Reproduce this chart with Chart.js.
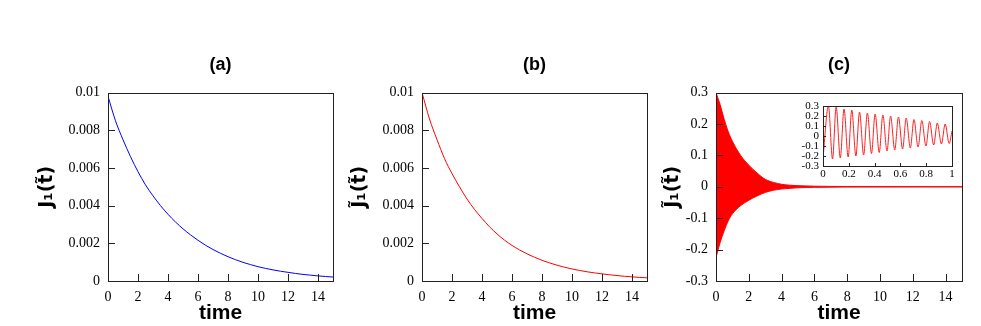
<!DOCTYPE html>
<html>
<head>
<meta charset="utf-8">
<script src="https://cdn.jsdelivr.net/npm/chart.js@4/dist/chart.umd.min.js"></script>
<style>
  body { margin: 0; background: #fff; width: 981px; height: 326px; overflow: hidden; position: relative; }
  canvas { position: absolute; }
</style>
</head>
<body>
<canvas id="ca" width="345" height="326" style="left:0;top:0"></canvas>
<canvas id="cb" width="330" height="326" style="left:330px;top:0"></canvas>
<canvas id="cc" width="341" height="326" style="left:640px;top:0"></canvas>
<canvas id="ci" width="180" height="95" style="left:780px;top:95px"></canvas>
<script>
// time grid for panels (a) and (b)
var time = [0, 0.5, 1, 1.5, 2, 2.5, 3, 3.5, 4, 4.5, 5, 5.5, 6, 6.5, 7, 7.5,
            8, 8.5, 9, 9.5, 10, 10.5, 11, 11.5, 12, 12.5, 13, 13.5, 14, 14.5, 15];

// (a) J1(t~), blue
var jA = [0.0098, 0.0085, 0.0075, 0.0066, 0.0058, 0.0051, 0.00452, 0.0040, 0.00354, 0.00313,
          0.00277, 0.00245, 0.00216, 0.0019, 0.00167, 0.00147, 0.00129, 0.00113, 0.00099, 0.00087,
          0.00076, 0.00067, 0.00059, 0.00052, 0.00046, 0.0004, 0.00035, 0.00031, 0.00027, 0.00024, 0.00021];

// (b) J~1(t~), red
var jB = [0.0100, 0.0086, 0.0075, 0.0065, 0.0057, 0.0050, 0.00435, 0.0038, 0.00332, 0.00288,
          0.0025, 0.00217, 0.00189, 0.00165, 0.00144, 0.00126, 0.0011, 0.00096, 0.00084, 0.00073,
          0.00064, 0.00056, 0.00049, 0.00043, 0.00038, 0.00033, 0.00029, 0.00025, 0.00022, 0.00019, 0.00017];

// (c) envelope of the fast oscillation
var timeC  = [0, 0.25, 0.5, 0.75, 1, 1.5, 2, 2.5, 3, 3.5, 4, 4.5, 5, 6, 7, 8, 10, 12, 15];
var upperC = [0.30, 0.262, 0.215, 0.175, 0.145, 0.10, 0.069, 0.044, 0.024, 0.014, 0.008, 0.005,
              0.0035, 0.002, 0.0012, 0.0008, 0.0005, 0.0003, 0.0002];
var lowerC = [-0.225, -0.178, -0.14, -0.108, -0.086, -0.06, -0.043, -0.029, -0.018, -0.011, -0.007,
              -0.005, -0.003, -0.0018, -0.0012, -0.0008, -0.0005, -0.0003, -0.0002];

// (c) inset: extremes of the oscillation on 0..1
var insetT = [0, 0.042, 0.074, 0.102, 0.134, 0.163, 0.195, 0.223, 0.255, 0.283, 0.315, 0.344,
              0.376, 0.404, 0.436, 0.464, 0.496, 0.524, 0.556, 0.585, 0.617, 0.645, 0.677, 0.705,
              0.737, 0.766, 0.798, 0.826, 0.858, 0.886, 0.918, 0.947, 0.978, 1.0];
var insetJ = [-0.22, 0.30, -0.23, 0.29, -0.22, 0.27, -0.21, 0.26, -0.20, 0.24, -0.19, 0.23,
              -0.175, 0.22, -0.165, 0.21, -0.15, 0.20, -0.14, 0.19, -0.13, 0.18, -0.12, 0.165,
              -0.11, 0.155, -0.10, 0.145, -0.09, 0.13, -0.08, 0.12, -0.075, 0.05];

// ticks
var xTicks = [0, 2, 4, 6, 8, 10, 12, 14];
var xLabels = ['0', '2', '4', '6', '8', '10', '12', '14'];
var yTicksAB = [0, 0.002, 0.004, 0.006, 0.008, 0.01];
var yLabelsAB = ['0', '0.002', '0.004', '0.006', '0.008', '0.01'];
var yTicksC = [-0.3, -0.2, -0.1, 0, 0.1, 0.2, 0.3];
var yLabelsC = ['-0.3', '-0.2', '-0.1', '0', '0.1', '0.2', '0.3'];
var xTicksIn = [0, 0.2, 0.4, 0.6, 0.8, 1];
var xLabelsIn = ['0', '0.2', '0.4', '0.6', '0.8', '1'];

function pts(xs, ys) {
    return xs.map(function (x, i) { return {x: x, y: ys[i]}; });
}

// box around the plot + gnuplot-like inward ticks
var frame = {
    id: 'frame',
    afterDatasetsDraw: function (chart, args, opts) {
        var ctx = chart.ctx, a = chart.chartArea, sx = chart.scales.x, sy = chart.scales.y;
        var len = opts.len || 7;
        ctx.save();
        ctx.strokeStyle = '#222';
        ctx.lineWidth = 1;
        ctx.beginPath();
        sx.ticks.forEach(function (t) {
            var px = Math.round(sx.getPixelForValue(t.value)) + 0.5;
            ctx.moveTo(px, a.bottom);
            ctx.lineTo(px, a.bottom - len);
        });
        sy.ticks.forEach(function (t) {
            var py = Math.round(sy.getPixelForValue(t.value)) + 0.5;
            ctx.moveTo(a.left, py);
            ctx.lineTo(a.left + len, py);
        });
        ctx.stroke();
        ctx.strokeRect(Math.round(a.left) + 0.5, Math.round(a.top) + 0.5,
                       Math.round(a.right - a.left), Math.round(a.bottom - a.top));
        ctx.restore();
    }
};

function makeScales(o) {
    return {
        x: {
            type: 'linear', min: o.xMin, max: o.xMax,
            afterFit: function (s) { s.height = o.xHeight; },
            afterBuildTicks: function (s) { s.ticks = o.xTicks.map(function (v) { return {value: v}; }); },
            grid: {display: false, drawTicks: false},
            border: {display: false},
            ticks: {
                autoSkip: false, maxRotation: 0, padding: o.xPad, color: '#000',
                font: {family: 'Liberation Serif', size: o.tickSize},
                callback: function (v, i) { return o.xLabels[i]; }
            },
            title: o.xTitle ? {
                display: true, text: o.xTitle, color: '#000',
                font: {family: 'Liberation Sans', size: 21, weight: 'bold'},
                padding: {top: 0, bottom: 0}
            } : {display: false}
        },
        y: {
            type: 'linear', min: o.yMin, max: o.yMax,
            afterFit: function (s) { s.width = o.yWidth; },
            afterBuildTicks: function (s) { s.ticks = o.yTicks.map(function (v) { return {value: v}; }); },
            grid: {display: false, drawTicks: false},
            border: {display: false},
            ticks: {
                autoSkip: false, padding: o.yPad, color: '#000',
                font: {family: 'Liberation Serif', size: o.tickSize},
                callback: function (v, i) { return o.yLabels[i]; }
            },
            title: o.yTitle ? {
                display: true, text: o.yTitle, color: '#000',
                font: {family: 'DejaVu Sans', size: 19, weight: 'bold'},
                padding: {top: o.yTitlePad, bottom: 0}
            } : {display: false}
        }
    };
}

function titleOpts(text) {
    return {
        display: true, text: text, fullSize: false, color: '#000',
        font: {family: 'Liberation Sans', size: 18, weight: 'bold'},
        padding: {top: 54, bottom: 17}
    };
}

function lineSet(data, color) {
    return {
        data: data, borderColor: color, borderWidth: 1, pointRadius: 0,
        fill: false, cubicInterpolationMode: 'monotone'
    };
}

Chart.defaults.animation = false;

// (a)
new Chart(document.getElementById('ca'), {
    type: 'line',
    data: {datasets: [lineSet(pts(time, jA), '#0000ff')]},
    options: {
        responsive: false,
        layout: {padding: {left: 0, right: 12, top: 0, bottom: 0}},
        plugins: {legend: {display: false}, tooltip: {enabled: false}, title: titleOpts('(a)'), frame: {len: 7}},
        scales: makeScales({
            xMin: 0, xMax: 15, xTicks: xTicks, xLabels: xLabels, xHeight: 45, xPad: 8, xTitle: 'time',
            yMin: 0, yMax: 0.01, yTicks: yTicksAB, yLabels: yLabelsAB, yWidth: 108, yPad: 8,
            yTitle: 'J\u2081(t\u0303)', yTitlePad: 36, tickSize: 14
        })
    },
    plugins: [frame]
});

// (b)
new Chart(document.getElementById('cb'), {
    type: 'line',
    data: {datasets: [lineSet(pts(time, jB), '#ff0000')]},
    options: {
        responsive: false,
        layout: {padding: {left: 0, right: 13, top: 0, bottom: 0}},
        plugins: {legend: {display: false}, tooltip: {enabled: false}, title: titleOpts('(b)'), frame: {len: 7}},
        scales: makeScales({
            xMin: 0, xMax: 15, xTicks: xTicks, xLabels: xLabels, xHeight: 45, xPad: 8, xTitle: 'time',
            yMin: 0, yMax: 0.01, yTicks: yTicksAB, yLabels: yLabelsAB, yWidth: 92, yPad: 8,
            yTitle: 'J\u0303\u2081(t\u0303)', yTitlePad: 19, tickSize: 14
        })
    },
    plugins: [frame]
});

// (c)
var upSet = lineSet(pts(timeC, upperC), '#ff0000');
upSet.fill = '+1';
upSet.backgroundColor = '#ff0000';
new Chart(document.getElementById('cc'), {
    type: 'line',
    data: {datasets: [upSet, lineSet(pts(timeC, lowerC), '#ff0000')]},
    options: {
        responsive: false,
        layout: {padding: {left: 0, right: 19, top: 0, bottom: 0}},
        plugins: {legend: {display: false}, tooltip: {enabled: false}, title: titleOpts('(c)'), frame: {len: 7}},
        scales: makeScales({
            xMin: 0, xMax: 15, xTicks: xTicks, xLabels: xLabels, xHeight: 45, xPad: 8, xTitle: 'time',
            yMin: -0.3, yMax: 0.3, yTicks: yTicksC, yLabels: yLabelsC, yWidth: 76, yPad: 8,
            yTitle: 'J\u0303\u2081(t\u0303)', yTitlePad: 22, tickSize: 14
        })
    },
    plugins: [frame]
});

// (c) inset
new Chart(document.getElementById('ci'), {
    type: 'line',
    data: {datasets: [lineSet(pts(insetT, insetJ), '#ff2020')]},
    options: {
        responsive: false,
        layout: {padding: {left: 0, right: 8, top: 11, bottom: 0}},
        plugins: {legend: {display: false}, tooltip: {enabled: false}, frame: {len: 3}},
        scales: makeScales({
            xMin: 0, xMax: 1, xTicks: xTicksIn, xLabels: xLabelsIn, xHeight: 24, xPad: 2,
            yMin: -0.3, yMax: 0.3, yTicks: yTicksC, yLabels: yLabelsC, yWidth: 43, yPad: 4,
            tickSize: 11
        })
    },
    plugins: [frame]
});
</script>
</body>
</html>
